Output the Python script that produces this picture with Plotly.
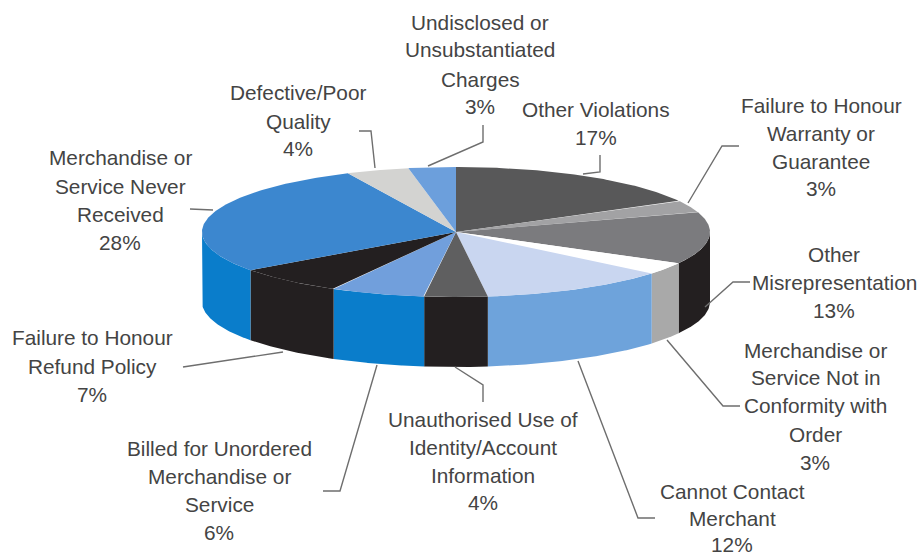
import numpy as np
import plotly.graph_objects as go

categories = ["Other Violations", "Failure to Honour Warranty or Guarantee", "Other Misrepresentation",
              "Merchandise or Service Not in Conformity with Order", "Cannot Contact Merchant",
              "Unauthorised Use of Identity/Account Information", "Billed for Unordered Merchandise or Service",
              "Failure to Honour Refund Policy", "Merchandise or Service Never Received",
              "Defective/Poor Quality", "Undisclosed or Unsubstantiated Charges"]
values = [17, 3, 13, 3, 12, 4, 6, 7, 28, 4, 3]
top_colors = ["#585859", "#a2a2a4", "#7b7b7e", "#ffffff", "#c9d6f0", "#5f5f60", "#719fdc",
              "#231f20", "#3c87cf", "#d3d3d1", "#6c9fdc"]
side_colors = ["#3a3a3a", "#777777", "#231f20", "#a9a9a9", "#6ea3db", "#231f20", "#0a7dcb",
               "#231f20", "#0a7dcb", "#999999", "#0a7dcb"]

label_lines = [
    (["Other Violations", "17%"], 596, [109, 137]),
    (["Failure to Honour", "Warranty or", "Guarantee", "3%"], 821, [105, 133, 161, 188]),
    (["Other", "Misrepresentation", "13%"], 834, [254, 282, 310]),
    (["Merchandise or", "Service Not in", "Conformity with", "Order", "3%"], 815, [350, 377, 405, 434, 462]),
    (["Cannot Contact", "Merchant", "12%"], 732, [491, 518, 544]),
    (["Unauthorised Use of", "Identity/Account", "Information", "4%"], 483, [419, 447, 475, 502]),
    (["Billed for Unordered", "Merchandise or", "Service", "6%"], 219, [448, 476, 504, 532]),
    (["Failure to Honour", "Refund Policy", "7%"], 92, [337, 366, 394]),
    (["Merchandise or", "Service Never", "Received", "28%"], 120, [157, 186, 214, 242]),
    (["Defective/Poor", "Quality", "4%"], 298, [92, 121, 148]),
    (["Undisclosed or", "Unsubstantiated", "Charges", "3%"], 480, [22, 49, 79, 106]),
]
leaders = [
    [(583, 174), (600, 172), (600, 155)],
    [(688, 203), (722, 146), (739, 146)],
    [(705, 307), (733, 282), (750, 282)],
    [(667, 340), (723, 406), (740, 406)],
    [(578, 361), (638, 518), (655, 518)],
    [(455, 367), (483, 385), (483, 402)],
    [(377, 365), (340, 491), (323, 491)],
    [(283, 352), (183, 367)],
    [(213, 210), (190, 209)],
    [(375, 168), (371, 131), (359, 131)],
    [(428, 166), (483, 142), (483, 125)],
]

CX, CY, RX, RY, DEPTH = 456, 232, 254, 65, 70


def rim(a):
    return CX + RX * np.sin(a), CY - RY * np.cos(a)


fig = go.Figure()
edges = np.cumsum([0] + values) / sum(values) * 2 * np.pi

for i in range(len(values)):
    a0, a1 = max(edges[i], np.pi / 2), min(edges[i + 1], 3 * np.pi / 2)
    if a1 <= a0:
        continue
    t = np.linspace(a0, a1, 80)
    x, y = rim(t)
    fig.add_trace(go.Scatter(x=np.r_[x, x[::-1]], y=np.r_[y, y[::-1] + DEPTH], mode="lines",
                             fill="toself", fillcolor=side_colors[i], line=dict(width=0),
                             hoverinfo="skip", showlegend=False, name=categories[i]))

for i in range(len(values)):
    t = np.linspace(edges[i], edges[i + 1], 120)
    x, y = rim(t)
    fig.add_trace(go.Scatter(x=np.r_[CX, x, CX], y=np.r_[CY, y, CY], mode="lines",
                             fill="toself", fillcolor=top_colors[i], line=dict(width=0),
                             hoverinfo="text", text=f"{categories[i]}: {values[i]}%", showlegend=False,
                             name=categories[i]))

for pts in leaders:
    fig.add_trace(go.Scatter(x=[p[0] for p in pts], y=[p[1] for p in pts], mode="lines",
                             line=dict(color="#6e6e6e", width=1.4), hoverinfo="skip", showlegend=False))

for lines, cx, ys in label_lines:
    for s, yy in zip(lines, ys):
        fig.add_annotation(x=cx, y=yy, text=s, showarrow=False, xanchor="center", yanchor="middle",
                           font=dict(family="Liberation Sans, Arial, sans-serif", size=20.8, color="#444444"))

fig.update_layout(width=920, height=556, margin=dict(l=0, r=0, t=0, b=0),
                  paper_bgcolor="white", plot_bgcolor="white",
                  xaxis=dict(range=[0, 920], visible=False, fixedrange=True),
                  yaxis=dict(range=[556, 0], visible=False, fixedrange=True))
fig.write_html("out.html", config=dict(displayModeBar=False),
               post_script="document.body.style.margin='0';")
